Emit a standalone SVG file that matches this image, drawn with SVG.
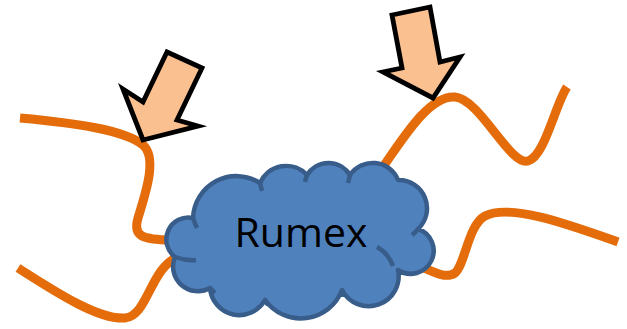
<svg xmlns="http://www.w3.org/2000/svg" width="627" height="329" viewBox="0 0 627 329">
<style>
.wire{fill:none;stroke:#E46C0A;stroke-width:9;stroke-linecap:butt}
.arrow{fill:#FAC090;stroke:#000;stroke-width:4.8;stroke-linejoin:miter}
.cloud{fill:#4F81BD;stroke:#385D8A;stroke-width:4.5;stroke-linejoin:round}
.inner{fill:none;stroke:#385D8A;stroke-width:4.5;stroke-linecap:butt}
.label{font-family:"Open Sans","Liberation Sans",sans-serif;font-size:41px;fill:#000}
</style>
<g id="connectors">
<path class="wire" d="M20,118 C75,123 125,130 143,145 C158,158 145,195 138,218 C133,235 140,240 172,240"/>
<path class="wire" d="M18,268 C60,295 100,320 125,318 C148,316 150,268 178,257"/>
<path class="wire" d="M383,167 C405,135 430,95 455,97 C480,99 510,166 528,161 C545,156 555,105 567,87"/>
<path class="wire" d="M410,262 C430,270 445,280 455,273 C465,265 468,225 485,216 C510,203 570,225 618,242"/>
</g>
<g id="cloud">
<path class="cloud" d="M175,257 A22,22 0 0 1 193,218 A43.5,43.5 0 0 1 260,183 A28.5,28.5 0 0 1 307,175 A25.3,25.3 0 0 1 350,175 A27.3,27.3 0 0 1 398,180 A28.3,28.3 0 0 1 418,229 A23,23 0 1 1 398,270 A30,30 0 0 1 342,290 A44,44 0 0 1 265,300 A29.4,29.4 0 0 1 210,288 A24.7,24.7 0 0 1 175,257 Z"/>
<path class="inner" d="M175,257 Q186,261 196,260"/>
<path class="inner" d="M193,218 Q195,224 197,228"/>
<path class="inner" d="M260,183 Q261,187 262,191"/>
<path class="inner" d="M307,175 Q306,178 305,182"/>
<path class="inner" d="M350,175 Q349,179 348,183"/>
<path class="inner" d="M418,229 Q416,232 412,235"/>
<path class="inner" d="M377,247 Q388,253 393,266"/>
<path class="inner" d="M210,288 Q212,290 215,293"/>
<path class="inner" d="M265,300 Q266,302 268,305"/>
<path class="inner" d="M342,290 Q343,293 343,297"/>
<text class="label" x="301" y="247" text-anchor="middle">Rumex</text>
</g>
<g id="arrow-left">
<polygon class="arrow" points="143,140 123,89 143,102 167,52 202,68 177,120 198,126"/>
</g>
<g id="arrow-right">
<polygon class="arrow" points="433,98 383,72 402,68 392,15 430,7 440,62 460,57"/>
</g>
</svg>
